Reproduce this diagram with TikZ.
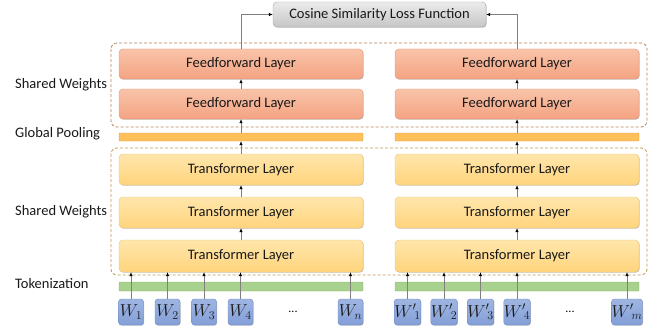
\documentclass[tikz,border=0pt]{standalone}
\usepackage{fontspec}
\setmainfont{Carlito}
\usetikzlibrary{arrows.meta,shadows}
\definecolor{fftop}{HTML}{F9C4AA}
\definecolor{ffbot}{HTML}{F4A382}
\definecolor{ffline}{HTML}{DE9372}
\definecolor{tltop}{HTML}{FFE6AC}
\definecolor{tlbot}{HTML}{FFD47C}
\definecolor{tlline}{HTML}{EBC472}
\definecolor{poolfill}{HTML}{FFC05C}
\definecolor{poolline}{HTML}{DFA044}
\definecolor{tokfill}{HTML}{A9D18E}
\definecolor{tokline}{HTML}{8DB874}
\definecolor{wtop}{HTML}{9FB6E2}
\definecolor{wbot}{HTML}{849FD8}
\definecolor{wline}{HTML}{6A87C4}
\definecolor{cstop}{HTML}{EBEBEB}
\definecolor{csbot}{HTML}{C6C6C6}
\definecolor{csline}{HTML}{A8A8A8}
\definecolor{dashA}{HTML}{B5845C}
\definecolor{dashB}{HTML}{BF9A50}
\definecolor{arrgray}{HTML}{7F7F7F}
\tikzset{
  shad/.style={drop shadow={shadow xshift=0.7pt,shadow yshift=-0.7pt,opacity=0.25,fill=black}},
  base/.style={rounded corners=4pt,inner sep=0pt,font=\fontsize{14.5}{16}\selectfont,text=black!90},
  ffbox/.style={base,shad,draw=ffline,top color=fftop,bottom color=ffbot,minimum width=244pt,minimum height=30pt},
  tlbox/.style={base,shad,draw=tlline,top color=tltop,bottom color=tlbot,minimum width=244pt,minimum height=31pt},
  poolbar/.style={draw=poolline,fill=poolfill,rounded corners=1pt,minimum width=244pt,minimum height=8pt,inner sep=0pt},
  tokbar/.style={draw=tokline,fill=tokfill,rounded corners=1pt,minimum width=244pt,minimum height=9pt,inner sep=0pt},
  wbox/.style={base,shad,draw=wline,top color=wtop,bottom color=wbot,minimum width=25pt,minimum height=26pt,rounded corners=3pt,font=\fontsize{17}{19}\selectfont},
  csbox/.style={base,shad,draw=csline,top color=cstop,bottom color=csbot,minimum width=213pt,minimum height=25pt},
  sidelabel/.style={anchor=west,inner sep=0pt,font=\fontsize{14.5}{16}\selectfont,text=black!90},
  dashbox/.style={dashed,rounded corners=6pt,line width=0.8pt,dash pattern=on 3pt off 2pt},
  arr/.style={draw=arrgray,line width=0.6pt,-{Latex[length=4pt,width=3.5pt,black]}},
}
\begin{document}
\begin{tikzpicture}[x=1pt,y=-1pt]
\useasboundingbox (0,0) rectangle (664,329);
% dashed groups
\draw[dashbox,draw=dashA] (111,43) rectangle (647,127);
\draw[dashbox,draw=dashB] (111,148) rectangle (647,275);
% side labels
\node[sidelabel] (lsw1) at (15,85) {Shared Weights};
\node[sidelabel] (lgp) at (15,134) {Global Pooling};
\node[sidelabel] (lsw2) at (15,212) {Shared Weights};
\node[sidelabel] (ltok) at (15,284) {Tokenization};
% cosine
\node[csbox] (cs) at (379.5,14.5) {Cosine Similarity Loss Function};
% left column
\node[ffbox] (lff1) at (241,64) {Feedforward Layer};
\node[ffbox] (lff2) at (241,104) {Feedforward Layer};
\node[poolbar] (lpool) at (241,137) {};
\node[tlbox] (ltl1) at (241,169.5) {Transformer Layer};
\node[tlbox] (ltl2) at (241,212.5) {Transformer Layer};
\node[tlbox,minimum height=32pt] (ltl3) at (241,256) {Transformer Layer};
\node[tokbar] (ltokbar) at (241,286.5) {};
% right column
\node[ffbox] (rff1) at (517,64) {Feedforward Layer};
\node[ffbox] (rff2) at (517,104) {Feedforward Layer};
\node[poolbar] (rpool) at (517,137) {};
\node[tlbox] (rtl1) at (517,169.5) {Transformer Layer};
\node[tlbox] (rtl2) at (517,212.5) {Transformer Layer};
\node[tlbox,minimum height=32pt] (rtl3) at (517,256) {Transformer Layer};
\node[tokbar] (rtokbar) at (517,286.5) {};
% tokens
\node[wbox] (w1) at (131,312) {$W_1$};
\node[wbox] (w2) at (167.5,312) {$W_2$};
\node[wbox] (w3) at (204,312) {$W_3$};
\node[wbox] (w4) at (240.5,312) {$W_4$};
\node[font=\fontsize{12}{14}\selectfont] (ldots) at (293,312) {...};
\node[wbox] (wn) at (350.5,312) {$W_n$};
\node[wbox] (v1) at (407.5,312) {${W'}_{\!1}$};
\node[wbox] (v2) at (444,312) {${W'}_{\!2}$};
\node[wbox] (v3) at (480.5,312) {${W'}_{\!3}$};
\node[wbox] (v4) at (517,312) {${W'}_{\!4}$};
\node[font=\fontsize{12}{14}\selectfont] (rdots) at (570,312) {...};
\node[wbox] (vm) at (627,312) {${W'}_{\!m}$};
% token arrows
\foreach \t in {w1,w2,w3,w4,wn}{\draw[arr] (\t.north) -- (\t.north |- ltl3.south);}
\foreach \t in {v1,v2,v3,v4,vm}{\draw[arr] (\t.north) -- (\t.north |- rtl3.south);}
% layer arrows
\foreach \s in {l,r}{
  \draw[arr] (\s tl3.north) -- (\s tl2.south);
  \draw[arr] (\s tl2.north) -- (\s tl1.south);
  \draw[arr] (\s tl1.north) -- (\s pool.south);
  \draw[arr] (\s pool.north) -- (\s ff2.south);
  \draw[arr] (\s ff2.north) -- (\s ff1.south);
}
\draw[arr] (lff1.north) |- (cs.west);
\draw[arr] (rff1.north) |- (cs.east);
\end{tikzpicture}
\end{document}
